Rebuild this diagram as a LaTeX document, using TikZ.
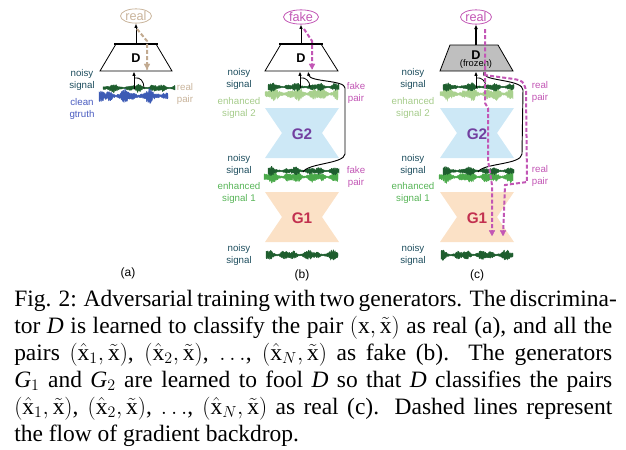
\documentclass[tikz,border=0pt]{standalone}
\usepackage{fontspec}
\setmainfont{Liberation Serif}
\newfontfamily\lsans{Liberation Sans}
\usetikzlibrary{arrows.meta,shapes.geometric}
\definecolor{dkgreen}{HTML}{1E5E2E}
\definecolor{ltgreen}{HTML}{A9D18E}
\definecolor{mdgreen}{HTML}{4AAA4A}
\definecolor{cblue}{HTML}{3D5BB5}
\definecolor{cbluetxt}{HTML}{4A5CC0}
\definecolor{noisytxt}{HTML}{1F4F5F}
\definecolor{tanc}{HTML}{C9B49B}
\definecolor{tand}{HTML}{C2AA90}
\definecolor{mag}{HTML}{C256B5}
\definecolor{gblue}{HTML}{CDE8F6}
\definecolor{gpeach}{HTML}{FBE1C6}
\definecolor{gtwo}{HTML}{7240A0}
\definecolor{gone}{HTML}{C2304F}
\definecolor{labtwo}{HTML}{A6CC8B}
\definecolor{labone}{HTML}{58B558}
\definecolor{frozen}{HTML}{BFBFBF}
% filled speech-like waveform: x0, x1, y, amp, colour, seed
\newcommand{\sigwave}[6]{%
  \pgfmathsetseed{#6}%
  \filldraw[#5, line width=0.3pt, line join=round]
    plot[domain=#1:#2, samples=150, variable=\t]
      (\t, {#3 - #4*(0.14 + 0.86*pow(abs(sin(8*(\t-#1) + #6)),1.3)*(0.7+0.3*sin(29*\t+2*#6)))*(0.35+0.65*rnd)})
    -- plot[domain=#2:#1, samples=150, variable=\t]
      (\t, {#3 + #4*(0.14 + 0.86*pow(abs(sin(8*(\t-#1) + #6)),1.3)*(0.7+0.3*sin(29*\t+2*#6)))*(0.35+0.65*rnd)})
    -- cycle;
}
\newcommand{\hglass}[4]{% cx, ytop, name, colour
  \fill[#4] (#1-37,#2) -- (#1+37,#2) -- (#1+20,#2+25) -- (#1+37,#2+50) -- (#1-37,#2+50) -- (#1-20,#2+25) -- cycle;
}
\newcommand{\capline}[2]{% y, text
  \node[capstyle, anchor=base west] at (14,#1) {\hbox to 448.5pt{#2}};
}
\newcommand{\pr}[1]{\smash{$(\hat{\mathrm{x}}_{#1},\tilde{\mathrm{x}})$}}
\tikzset{
  lbl/.style={font=\lsans\fontsize{7.3}{8.8}\selectfont, align=center, inner sep=0pt},
  dlbl/.style={font=\lsans\bfseries\fontsize{9.5}{10}\selectfont, inner sep=0pt},
  glbl/.style={font=\lsans\bfseries\fontsize{11.5}{12}\selectfont, inner sep=0pt},
  sublbl/.style={font=\lsans\fontsize{9}{10}\selectfont, inner sep=0pt},
  outcome/.style={ellipse, draw, line width=0.6pt, inner sep=0.3pt, font=\lsans\fontsize{9.5}{10}\selectfont},
  inarrow/.style={line width=0.7pt, -{Latex[length=3.2pt,width=2.6pt]}},
  thinline/.style={line width=0.6pt},
  gradflow/.style={line width=1.5pt, dash pattern=on 3pt off 1.6pt},
  gradtip/.style={-{Triangle[length=4.2pt,width=4.6pt]}},
  capstyle/.style={inner sep=0pt, font=\fontsize{17.6}{20.25}\selectfont},
}
\begin{document}
\begin{tikzpicture}[x=0.75pt,y=-0.75pt]
\useasboundingbox (0,0) rectangle (626,450);

% ================= panel (a) =================
\node[lbl, text=noisytxt] (aNoisy) at (82,80) {noisy\\signal};
\node[lbl, text=cbluetxt] (aClean) at (82,109) {clean\\gtruth};
\node[lbl, text=tanc] (aPair) at (185,94) {real\\pair};
\sigwave{103}{175}{88}{5}{dkgreen}{11}
\sigwave{99}{168}{96}{8}{cblue}{47}
\draw[thinline, fill=white] (100,71) -- (172,71) -- (156,44) -- (116,44) -- cycle;
\draw[line width=1.9pt] (114,44) -- (158,44);
\node[dlbl] (aD) at (136,58) {D};
\node[outcome, draw=tanc, text=tanc] (aReal) at (136,16) {real};
\coordinate (aDtop) at (136,44);
\draw[inarrow] (aDtop) -- (aReal);
\coordinate (aIn) at (134,89);
\coordinate (aDbot) at (134,71.5);
\draw[inarrow] (aIn) -- (aDbot);
\coordinate (aHookS) at (144,88);
\coordinate (aHookE) at (135,78);
\draw[thinline] (aHookS) .. controls (144,81) and (140,77) .. (aHookE);
\coordinate (aG1) at (137,29);
\coordinate (aG2) at (147,41);
\coordinate (aG3) at (147,69.5);
\draw[gradflow, tand] (aG1) -- (aG2) -- (aG3);
\draw[gradtip, tand, line width=0.1pt] ([yshift=0.75pt]aG3) -- (aG3);
\node[sublbl] (aLab) at (128,273) {(a)};

% ================= panel (b) =================
\node[lbl, text=noisytxt] (bNoisyA) at (239,79) {noisy\\signal};
\node[lbl, text=labtwo] (bEnhB) at (239,108) {enhanced\\signal 2};
\node[lbl, text=mag] (bPairA) at (356,93) {fake\\pair};
\sigwave{265}{338}{94}{8}{ltgreen}{23}
\sigwave{268}{339}{87}{5}{dkgreen}{61}
\hglass{302}{108}{bG2}{gblue}
\node[glbl, text=gtwo] (bG2) at (302,134) {G2};
\node[lbl, text=noisytxt] (bNoisyB) at (239,165) {noisy\\signal};
\node[lbl, text=labone] (bEnhA) at (239,193) {enhanced\\signal 1};
\node[lbl, text=mag] (bPairB) at (356,177) {fake\\pair};
\sigwave{264}{338}{177}{7}{mdgreen}{37}
\sigwave{268}{339}{171}{5}{dkgreen}{73}
\hglass{302}{192}{bG1}{gpeach}
\node[glbl, text=gone] (bG1) at (302,218) {G1};
\node[lbl, text=noisytxt] (bNoisyC) at (239,255) {noisy\\signal};
\sigwave{266}{338}{255}{6}{dkgreen}{89}
\node[sublbl] (bLab) at (302,275) {(b)};
\draw[thinline, fill=white] (265,71) -- (338,71) -- (321,44) -- (281,44) -- cycle;
\draw[line width=1.9pt] (279,44) -- (323,44);
\node[dlbl] (bD) at (301,58) {D};
\node[outcome, draw=mag, text=mag] (bFake) at (301,17) {fake};
\coordinate (bDtop) at (301,44);
\draw[inarrow] (bDtop) -- (bFake);
\coordinate (bIn) at (300,88);
\coordinate (bDbot) at (300,71.5);
\draw[inarrow] (bIn) -- (bDbot);
\coordinate (bFakeIn) at (303,172);
\coordinate (bDbot2) at (308,71.5);
\draw[inarrow] (bFakeIn) .. controls (308,163) and (344,164) .. (345,154) -- (345,88) .. controls (345,80) and (310,82) .. (bDbot2);
\coordinate (bHookS) at (310,87);
\coordinate (bHookE) at (301,78);
\draw[thinline] (bHookS) .. controls (310,81) and (305,77) .. (bHookE);
\coordinate (bG1) at (304,29);
\coordinate (bG2) at (312,41);
\coordinate (bG3) at (312,69.5);
\draw[gradflow, mag] (bG1) -- (bG2) -- (bG3);
\draw[gradtip, mag, line width=0.1pt] ([yshift=0.75pt]bG3) -- (bG3);

% ================= panel (c) =================
\node[lbl, text=noisytxt] (cNoisyA) at (413,79) {noisy\\signal};
\node[lbl, text=labtwo] (cEnhB) at (413,108) {enhanced\\signal 2};
\node[lbl, text=mag] (cPairA) at (540,92) {real\\pair};
\sigwave{440}{513}{94}{8}{ltgreen}{29}
\sigwave{443}{514}{87}{5}{dkgreen}{53}
\hglass{477}{108}{cG2}{gblue}
\node[glbl, text=gtwo] (cG2) at (477,134) {G2};
\node[lbl, text=noisytxt] (cNoisyB) at (413,165) {noisy\\signal};
\node[lbl, text=labone] (cEnhA) at (413,193) {enhanced\\signal 1};
\node[lbl, text=mag] (cPairB) at (540,176) {real\\pair};
\sigwave{439}{513}{177}{7}{mdgreen}{41}
\sigwave{443}{514}{171}{5}{dkgreen}{67}
\hglass{477}{192}{cG1}{gpeach}
\node[glbl, text=gone] (cG1) at (477,218) {G1};
\node[lbl, text=noisytxt] (cNoisyC) at (413,255) {noisy\\signal};
\sigwave{441}{513}{255}{6}{dkgreen}{97}
\node[sublbl] (cLab) at (477,275) {(c)};
\draw[thinline, fill=frozen] (440,71) -- (513,71) -- (498,45) -- (450,45) -- cycle;
\node[dlbl] (cD) at (476,55) {D};
\node[lbl, font=\lsans\fontsize{7}{8}\selectfont] (cFrozen) at (476,64) {(frozen)};
\node[outcome, draw=mag, text=mag] (cReal) at (476,17) {real};
\coordinate (cDtop) at (476,45);
\draw[line width=1.3pt, -{Latex[length=3.4pt,width=3pt]}] (cDtop) -- (cReal);
\coordinate (cIn) at (476,88);
\coordinate (cDbot) at (476,71.5);
\draw[inarrow] (cIn) -- (cDbot);
\coordinate (cFakeIn) at (478,172);
\coordinate (cDbot2) at (483,71.5);
\draw[inarrow] (cFakeIn) .. controls (483,163) and (521,165) .. (522,154) -- (523,90) .. controls (523,80) and (488,81) .. (cDbot2);
\coordinate (cHookS) at (486,87);
\coordinate (cHookE) at (477,78);
\draw[thinline] (cHookS) .. controls (486,81) and (481,77) .. (cHookE);
\coordinate (cA1) at (485,29);
\coordinate (cA2) at (492,236);
\draw[gradflow, mag] (cA1) -- (485,103) -- (488,108) -- (488,160) -- (492,185) -- (cA2);
\draw[gradtip, mag, line width=0.1pt] ([yshift=0.75pt]cA2) -- (cA2);
\coordinate (cB1) at (484,75);
\coordinate (cB2) at (503,236);
\draw[gradflow, mag] (cB1) -- (514,79) .. controls (523,81) .. (526,90) -- (527,182) -- (505,185) -- (cB2);
\draw[gradtip, mag, line width=0.1pt] ([yshift=0.75pt]cB2) -- (cB2);

% ================= caption =================
\capline{306}{Fig. 2: Adversarial training with two generators. The discrimina-}
\capline{333}{tor \textit{D} is learned to classify the pair \smash{$(\mathrm{x},\tilde{\mathrm{x}})$} as real (a), and all the}
\capline{360}{pairs \pr{1}, \pr{2}, $\ldots$, \pr{N} as fake (b). The generators}
\capline{387}{\textit{G}$_1$ and \textit{G}$_2$ are learned to fool \textit{D} so that \textit{D} classifies the pairs}
\capline{414}{\pr{1}, \pr{2}, $\ldots$, \pr{N} as real (c). Dashed lines represent}
\node[capstyle, anchor=base west] (capLast) at (14,441) {the flow of gradient backdrop.};
\end{tikzpicture}
\end{document}
